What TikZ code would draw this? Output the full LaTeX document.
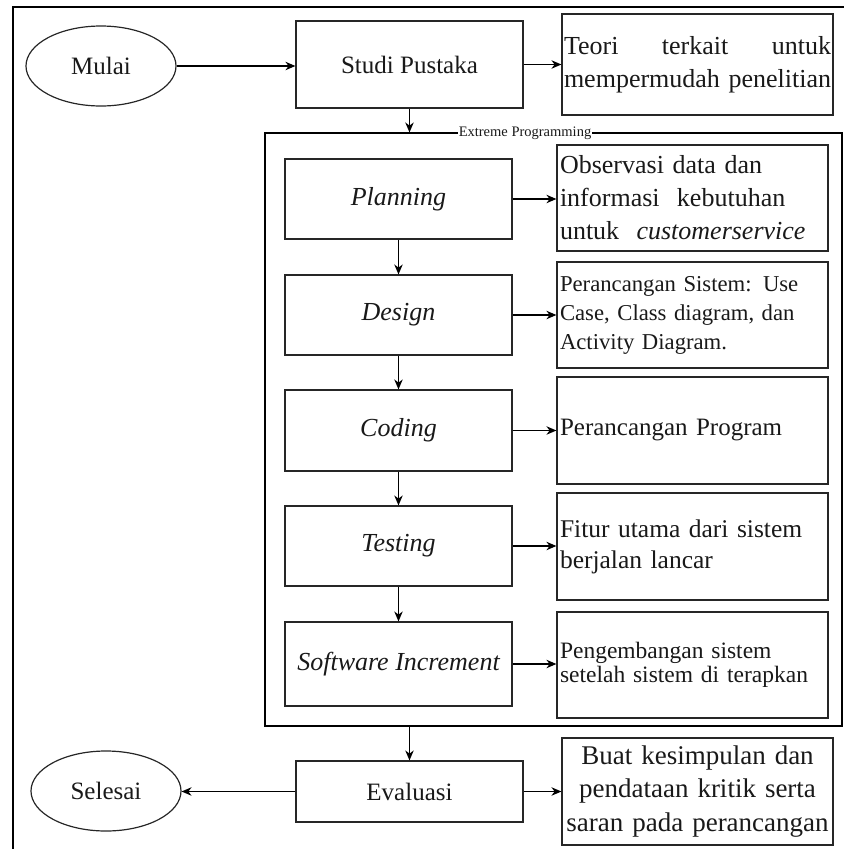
\documentclass[tikz,border=0pt]{standalone}
\usepackage{fontspec}
\setmainfont{Liberation Serif}
\usetikzlibrary{shapes.geometric,arrows.meta}
\newcommand\szMain{\fontsize{25}{31}\selectfont}
\newcommand\szDesc{\fontsize{26}{33}\selectfont}
\begin{document}
\begin{tikzpicture}[x=1pt,y=-1pt,
  box/.style={draw=black!85, line width=1.2pt, rectangle, inner sep=0pt, minimum width=227pt, text=black!90, font=\szMain},
  desc/.style={draw=black!85, line width=1.2pt, rectangle, inner xsep=3pt, inner ysep=0pt, text width=265pt, align=left, minimum height=106pt, text=black!90, font=\szDesc},
  term/.style={draw=black!85, ellipse, line width=1.2pt, inner sep=0pt, minimum width=150pt, minimum height=80pt, text=black!90, font=\szMain},
  arr/.style={-{Stealth[length=10pt,width=8.5pt]}, line width=1.2pt, draw=black},
  it/.style={font=\szDesc\itshape}
]
\useasboundingbox (0,0) rectangle (844,849);
% outer page frame
\draw[line width=1.2pt] (13,849) -- (13,7) -- (844,7);

% top row
\node[term] (mulai) at (101,66) {Mulai};
\node[box, minimum height=87pt] (studi) at (409.5,64.5) {Studi Pustaka};
\node[desc, minimum height=101pt, inner xsep=2pt, text width=267pt] (teori) at (697.5,64.5) {Teori\hfill terkait\hfill untuk\\\mbox{mempermudah penelitian}};

% Extreme Programming frame
\node[draw=black, line width=1.2pt, rectangle, inner sep=0pt, minimum width=577pt, minimum height=593pt] (xp) at (553.5,429.5) {};
\node[fill=white, inner sep=1pt, font=\fontsize{14.5}{16}\selectfont, text=black!90] (xplabel) at (525,133) {Extreme Programming};

% XP stages
\node[box, minimum height=80pt, it] (planning) at (398.5,199) {Planning};
\node[box, minimum height=80pt, it] (design) at (398.5,315) {Design};
\node[box, minimum height=81pt, it] (coding) at (398.5,430.5) {Coding};
\node[box, minimum height=80pt, it] (testing) at (398.5,546) {Testing};
\node[box, minimum height=84pt, it] (si) at (398.5,664) {Software Increment};

\node[desc] (planDesc) at (692.5,198) {Observasi data dan\\informasi\ \ kebutuhan\\untuk\ \ \textit{customerservice}};
\node[desc, font=\fontsize{22.7}{29}\selectfont] (designDesc) at (692.5,315) {Perancangan Sistem: Use\\Case, Class diagram, dan\\Activity Diagram.};
\node[desc, minimum height=107pt, font=\fontsize{25}{31}\selectfont] (codingDesc) at (692.5,430.5) {Perancangan Program};
\node[desc, minimum height=107pt, font=\fontsize{25.5}{31}\selectfont] (testingDesc) at (692.5,546.5) {Fitur utama dari sistem\\berjalan lancar};
\node[desc, font=\fontsize{23.5}{23.5}\selectfont] (siDesc) at (692.5,665) {Pengembangan sistem\\setelah sistem di terapkan};

% bottom row
\node[box, minimum height=61pt] (evaluasi) at (409.5,791.5) {Evaluasi};
\node[term] (selesai) at (106,791) {Selesai};
\node[desc, minimum height=107pt, align=center, font=\fontsize{27}{33.5}\selectfont] (buat) at (697.5,791.5) {Buat kesimpulan dan\\pendataan kritik serta\\saran pada perancangan};

% connectors
\draw[arr] (mulai.east) -- (mulai.east -| studi.west);
\draw[arr] (studi.east) -- (studi.east -| teori.west);
\draw[arr] (studi.south) -- (studi.south |- xp.north);
\draw[arr] (planning.south) -- (design.north);
\draw[arr] (design.south) -- (coding.north);
\draw[arr] (coding.south) -- (testing.north);
\draw[arr] (testing.south) -- (si.north);
\draw[arr] (planning.east) -- (planning.east -| planDesc.west);
\draw[arr] (design.east) -- (design.east -| designDesc.west);
\draw[arr] (coding.east) -- (coding.east -| codingDesc.west);
\draw[arr] (testing.east) -- (testing.east -| testingDesc.west);
\draw[arr] (si.east) -- (si.east -| siDesc.west);
\draw[arr] (evaluasi.north |- xp.south) -- (evaluasi.north);
\draw[arr] (evaluasi.west) -- (evaluasi.west -| selesai.east);
\draw[arr] (evaluasi.east) -- (evaluasi.east -| buat.west);
\end{tikzpicture}
\end{document}
